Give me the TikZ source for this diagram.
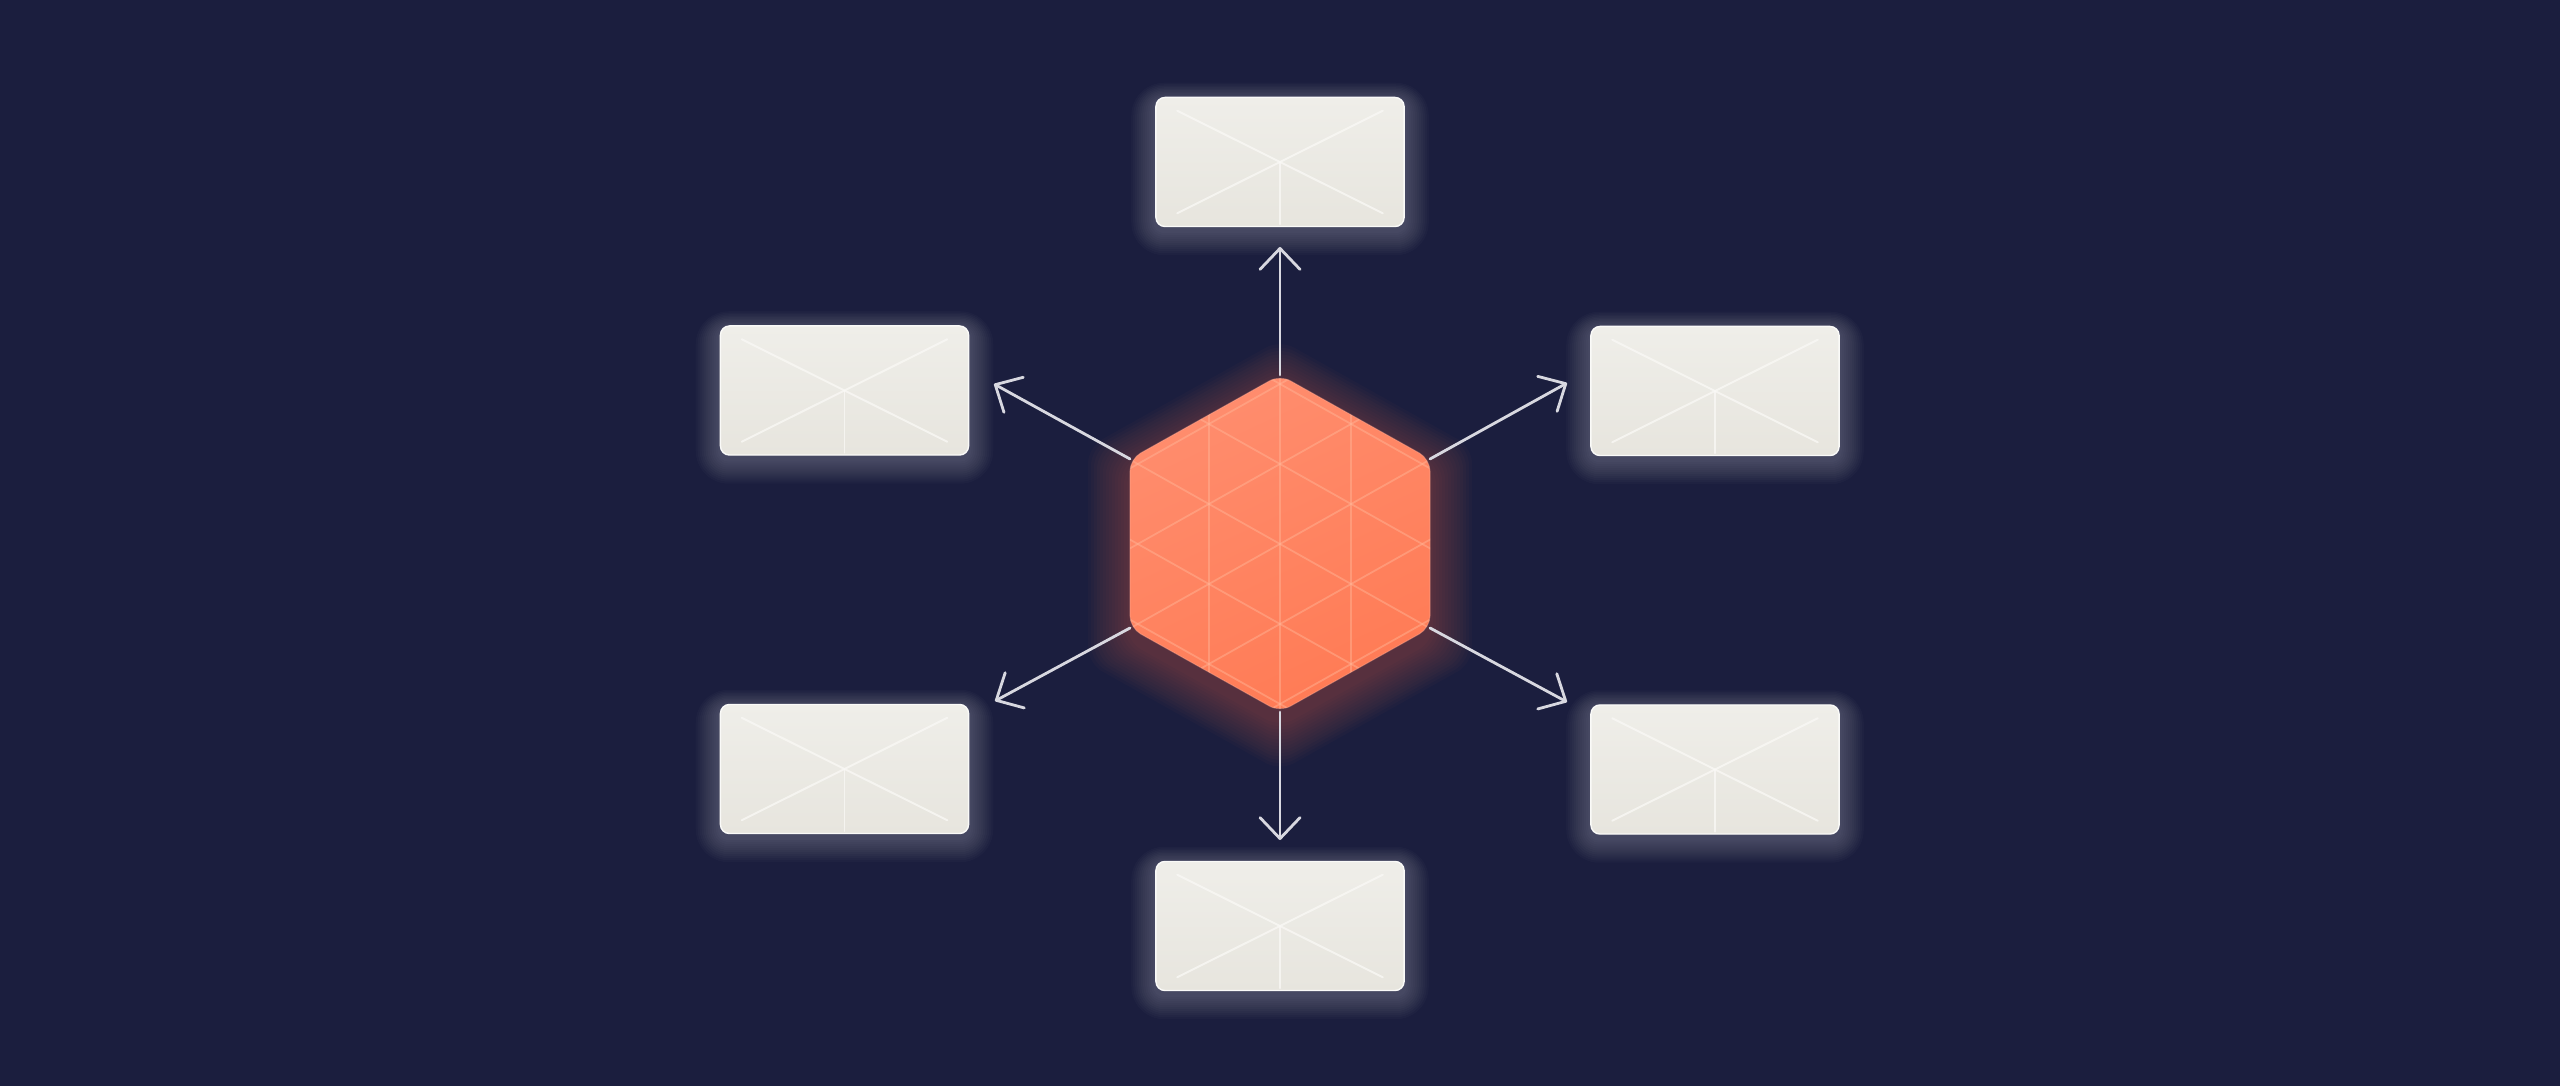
\documentclass[tikz,border=0pt]{standalone}
\usetikzlibrary{arrows.meta,calc,backgrounds}
\definecolor{bgc}{HTML}{1B1E3E}
\definecolor{boxa}{HTML}{EFEEE9}
\definecolor{boxb}{HTML}{E7E5DE}
\definecolor{boxline}{HTML}{FAF9F6}
\definecolor{hexa}{HTML}{FF8D6E}
\definecolor{hexb}{HTML}{FF7B55}
\definecolor{hexline}{HTML}{FFB799}
\definecolor{arrc}{HTML}{D8D8E0}
\definecolor{glowc}{HTML}{FF7A55}
\begin{document}
\begin{tikzpicture}[x=0.01cm,y=-0.01cm,
  card/.style={rectangle, rounded corners=0.09cm, top color=boxa, bottom color=boxb,
    draw=white!70!boxa, line width=0.4pt, minimum width=2.48cm, minimum height=1.29cm, inner sep=0pt},
  cardline/.style={draw=boxline, line width=0.55pt, line cap=round, opacity=0.75},
  ray/.style={draw=arrc, line width=0.8pt, line cap=round,
    -{Straight Barb[length=0.21cm,width=0.40cm,line width=0.8pt,round]}},
  hexp/.style={insert path={(0,-169) -- (150,-85) -- (150,84) -- (0,168) -- (-150,84) -- (-150,-85) -- cycle}},
  lattice/.style={draw=hexline, line width=0.5pt, opacity=0.45}]
\useasboundingbox (0,0) rectangle (2560,1086);

% cards
\node[card] (bT)  at (1280,162)   {};
\node[card] (bUL) at (844.5,390.5) {};
\node[card] (bUR) at (1715,391)   {};
\node[card] (bLL) at (844.5,769)  {};
\node[card] (bLR) at (1715,769.5) {};
\node[card] (bB)  at (1280,926)   {};

\foreach \b in {bT,bUL,bUR,bLL,bLR,bB}{
  \draw[cardline] ($(\b.north west)+(22,14)$) -- (\b.center) -- ($(\b.south east)+(-22,-14)$);
  \draw[cardline] ($(\b.north east)+(-22,14)$) -- (\b.center) -- ($(\b.south west)+(22,-14)$);
  \draw[cardline] (\b.center) -- ($(\b.south)+(0,-3)$);
}

% hexagon
\coordinate (hc) at (1280,544);
\coordinate (hT)  at (1280,375);
\coordinate (hUR) at (1430,459);
\coordinate (hLR) at (1430,628);
\coordinate (hB)  at (1280,712);
\coordinate (hLL) at (1130,628);
\coordinate (hUL) at (1130,459);

\begin{scope}[shift={(hc)}]
  \shade[top color=hexa, bottom color=hexb, shading angle=25, rounded corners=0.12cm, hexp];
  \begin{scope}
    \clip[rounded corners=0.12cm, hexp];
    \foreach \vx in {-71,0,71}{
      \draw[lattice] (\vx,-200) -- (\vx,200);
    }
    \foreach \k in {-3,...,3}{
      \draw[lattice] (-200,80*\k-112.5) -- (200,80*\k+112.5);
      \draw[lattice] (-200,80*\k+112.5) -- (200,80*\k-112.5);
    }
  \end{scope}
  \draw[draw=hexa!70!white, line width=0.3pt, opacity=0.35, rounded corners=0.12cm, hexp];
\end{scope}

% arrow tips
\coordinate (tT)  at (1280,247);
\coordinate (tUR) at (1567,383);
\coordinate (tLR) at (1567,702);
\coordinate (tB)  at (1280,840);
\coordinate (tLL) at (995,701);
\coordinate (tUL) at (994,384);

\draw[ray] (hT)  -- (tT);
\draw[ray] (hUR) -- (tUR);
\draw[ray] (hLR) -- (tLR);
\draw[ray] (hB)  -- (tB);
\draw[ray] (hLL) -- (tLL);
\draw[ray] (hUL) -- (tUL);

\begin{pgfonlayer}{background}
  \fill[bgc] (0,0) rectangle (2560,1086);
  \foreach \b in {bT,bUL,bUR,bLL,bLR,bB}{
    \foreach \g in {1,...,12}{
      \pgfmathsetmacro\rr{0.09+0.02*\g}
      \fill[white, opacity=0.018, rounded corners=\rr cm]
        ($(\b.north west)+(-2*\g,-1.5*\g+4)$) rectangle ($(\b.south east)+(2*\g,2*\g+4)$);
    }
  }
  \foreach \g in {1,...,14}{
    \pgfmathsetmacro\sc{1+0.02*\g}
    \begin{scope}[shift={(1280,556)}, scale=\sc]
      \fill[glowc, opacity=0.025, rounded corners=0.16cm, hexp];
    \end{scope}
  }
\end{pgfonlayer}
\end{tikzpicture}
\end{document}
